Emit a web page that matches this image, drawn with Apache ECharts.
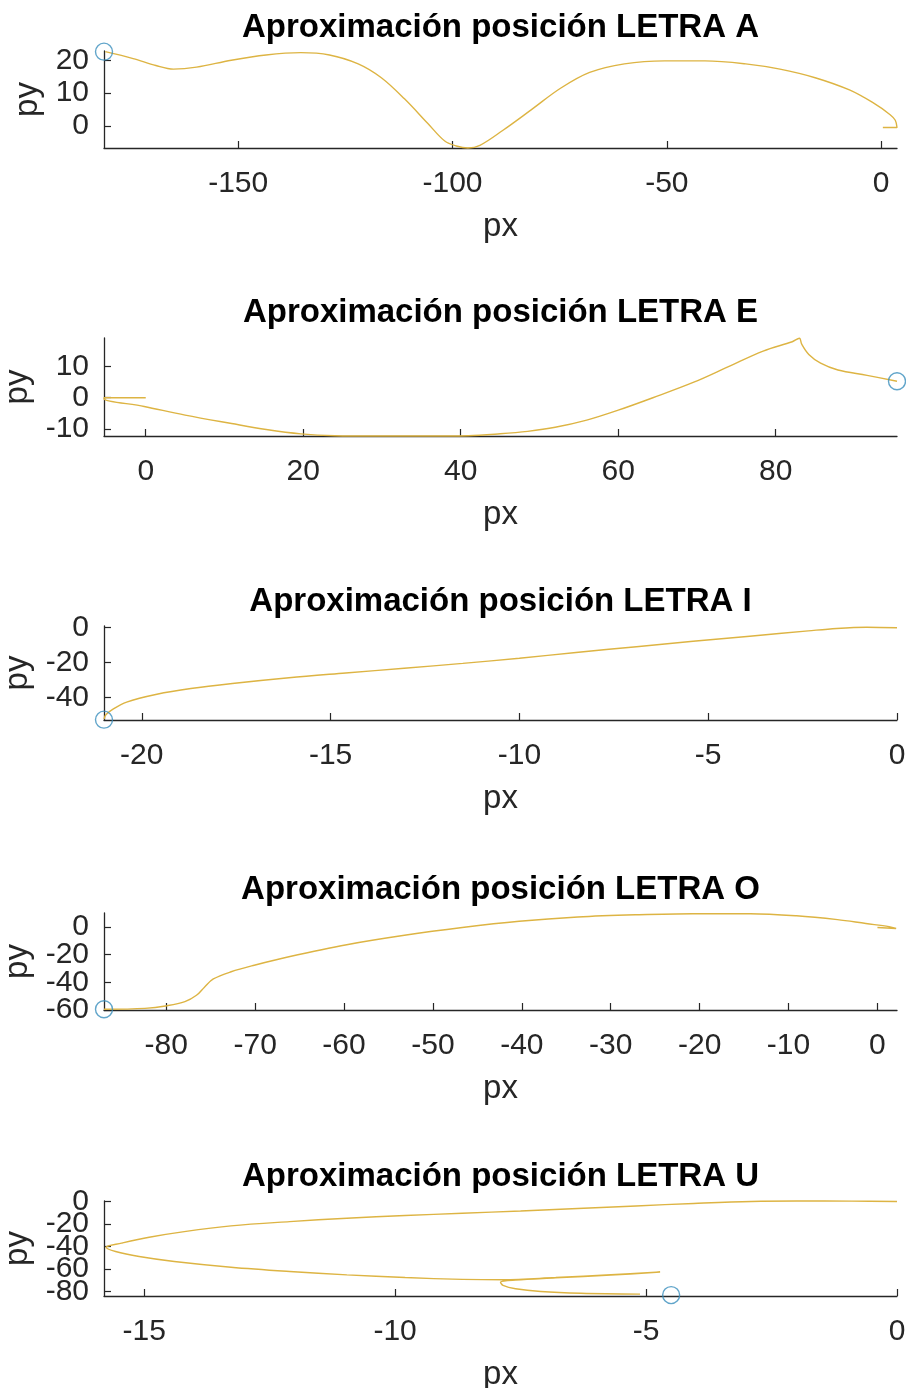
<!DOCTYPE html>
<html>
<head>
<meta charset="utf-8">
<script src="https://cdn.jsdelivr.net/npm/echarts@6/dist/echarts.min.js"></script>
<style>
  html, body { margin: 0; padding: 0; background: #ffffff; }
  #chart { width: 906px; height: 1388px; }
</style>
</head>
<body>
<div id="chart"></div>
<script>
// Trajectory of each letter: px / py samples, plus the marked end point.
const pxA = [0.4, 3.7, 3.7, 3.3, 2.1, -2.0, -7.4, -15.4, -23.6, -31.6, -41.1, -50.5, -59.9, -68.0, -74.8, -81.5, -88.3, -93.6, -96.4, -99.1, -101.8, -105.8, -111.2, -116.6, -122.0, -128.7, -135.4, -143.5, -151.6, -159.7, -165.1, -169.2, -174.5, -181.0];
const pyA = [-0.4, -0.4, -0.4, 1.8, 3.5, 7.2, 11.0, 14.7, 17.3, 18.9, 19.8, 19.8, 18.9, 16.3, 11.5, 5.1, -1.3, -5.8, -6.6, -6.0, -4.5, 0.9, 8.3, 14.7, 18.9, 21.6, 22.3, 21.6, 20.0, 17.9, 17.3, 18.4, 20.5, 22.6];
const endA = [-181.3, 22.6];

const pxE = [0, -5.3, -5.3, -0.2, 5.0, 10.9, 15.3, 19.7, 24.0, 29.0, 35.0, 41.0, 45.0, 48.5, 52.0, 56.0, 60.0, 64.4, 69.6, 74.0, 78.4, 82.1, 83.0, 83.0, 83.3, 84.2, 85.7, 87.9, 91.6, 95.4];
const pyE = [0, 0, -0.3, -2.8, -5.6, -8.3, -10.2, -11.6, -12.2, -12.3, -12.3, -12.2, -11.6, -10.8, -9.5, -7.2, -4.0, 0.0, 5.0, 10.0, 15.0, 18.0, 19.1, 19.1, 17.2, 13.9, 11.1, 8.9, 7.2, 5.3];
const endE = [95.4, 5.3];

const pxI = [0.0, -0.8, -1.6, -2.35, -3.9, -5.4, -6.9, -8.5, -10.0, -11.5, -13.05, -14.6, -16.1, -17.6, -18.7, -19.6, -20.4, -20.8, -20.95, -21.0];
const pyI = [0.0, 0.3, -0.4, -1.8, -4.9, -7.8, -10.9, -14.2, -17.5, -20.5, -23.3, -26.0, -28.7, -32.0, -34.9, -38.2, -42.7, -47.3, -50.0, -52.5];
const endI = [-21.0, -52.8];

const pxO = [0.0, 2.1, 2.1, 1.3, -1.3, -4.5, -9.1, -14.3, -20.8, -27.2, -33.7, -40.3, -46.7, -53.2, -59.7, -66.2, -70.1, -72.7, -74.7, -75.7, -76.6, -77.9, -79.9, -82.4, -87.0];
const pyO = [-0.5, -1.2, -1.2, 0.2, 2.4, 5.2, 8.0, 9.5, 9.5, 8.7, 7.1, 4.0, -0.5, -6.1, -12.9, -21.6, -27.7, -32.4, -37.6, -43.5, -49.4, -54.0, -56.9, -58.8, -59.5];
const endO = [-87.0, -59.5];

const pxU = [0.0, -0.9, -2.0, -2.9, -4.05, -5.2, -6.36, -7.5, -8.66, -9.8, -10.96, -12.1, -13.27, -14.2, -14.9, -15.45, -15.76, -15.57, -15.1, -14.4, -13.27, -12.1, -10.96, -9.8, -8.66, -7.85, -6.8, -5.7, -4.72, -4.72, -5.7, -6.8, -7.6, -7.9, -7.85, -7.6, -7.1, -6.3, -5.12];
const pyU = [0.0, 0.35, 0.5, 0.1, -1.7, -3.9, -6.2, -8.4, -10.4, -12.4, -14.8, -17.8, -21.6, -26.7, -31.7, -37.0, -40.6, -44.4, -48.9, -53.3, -58.4, -62.2, -65.2, -67.6, -69.2, -69.6, -67.6, -65.1, -62.7, -62.7, -65.4, -67.9, -69.8, -71.8, -74.5, -77.5, -80.0, -81.6, -82.3];
const endU = [-4.5, -83.2];

// Tick values for every panel
const xTicksA = [-150, -100, -50, 0];
const yTicksA = [0, 10, 20];
const xTicksE = [0, 20, 40, 60, 80];
const yTicksE = [-10, 0, 10];
const xTicksI = [-20, -15, -10, -5, 0];
const yTicksI = [-40, -20, 0];
const xTicksO = [-80, -70, -60, -50, -40, -30, -20, -10, 0];
const yTicksO = [-60, -40, -20, 0];
const xTicksU = [-15, -10, -5, 0];
const yTicksU = [-80, -60, -40, -20, 0];

const titles = [
  'Aproximación posición LETRA A',
  'Aproximación posición LETRA E',
  'Aproximación posición LETRA I',
  'Aproximación posición LETRA O',
  'Aproximación posición LETRA U'
];

const FONT = '"Liberation Sans", Arial, Helvetica, sans-serif';
const AXIS_COLOR = '#262626';
const LINE_COLOR = '#DDB443';
const MARK_COLOR = '#3a8fbd';

const panels = [
  { x: pxA, y: pyA, end: endA, xt: xTicksA, yt: yTicksA, xr: [-181.3, 3.7], yr: [-6.6, 22.8], top: 51, h: 97, titleY: 28 },
  { x: pxE, y: pyE, end: endE, xt: xTicksE, yt: yTicksE, xr: [-5.3, 95.4], yr: [-12.3, 19.2], top: 338, h: 98, titleY: 313 },
  { x: pxI, y: pyI, end: endI, xt: xTicksI, yt: yTicksI, xr: [-21.0, 0.0], yr: [-53, 1], top: 626, h: 94, titleY: 602 },
  { x: pxO, y: pyO, end: endO, xt: xTicksO, yt: yTicksO, xr: [-87.0, 2.2], yr: [-60, 10], top: 913, h: 97, titleY: 890 },
  { x: pxU, y: pyU, end: endU, xt: xTicksU, yt: yTicksU, xr: [-15.8, 0.0], yr: [-84, 0.5], top: 1201, h: 95, titleY: 1177 }
];

const GRID_LEFT = 104;
const GRID_WIDTH = 793;

const labelStyle = { fontSize: 30, color: AXIS_COLOR, fontFamily: FONT };
const grid = [], xAxis = [], yAxis = [], series = [], graphic = [];

panels.forEach((p, i) => {
  grid.push({
    left: GRID_LEFT, width: GRID_WIDTH, top: p.top, height: p.h,
    containLabel: false, outerBoundsMode: 'none'
  });

  xAxis.push({
    gridIndex: i, type: 'value', min: p.xr[0], max: p.xr[1],
    axisLine: { show: true, onZero: false, lineStyle: { color: AXIS_COLOR, width: 1.3 } },
    axisTick: { show: true, inside: true, length: 7, customValues: p.xt, lineStyle: { color: AXIS_COLOR, width: 1.2 } },
    axisLabel: Object.assign({ customValues: p.xt, margin: 21, showMinLabel: true, showMaxLabel: true }, labelStyle),
    splitLine: { show: false },
    name: 'px', nameLocation: 'middle', nameGap: 62,
    nameTextStyle: { fontSize: 33, color: AXIS_COLOR, fontFamily: FONT }
  });

  // The y tick labels sit very close together, so they are split over two
  // left axes (alternate values) to keep every label visible.
  const evenLabels = p.yt.filter((_, k) => k % 2 === 0);
  const oddLabels = p.yt.filter((_, k) => k % 2 === 1);

  yAxis.push({
    gridIndex: i, type: 'value', position: 'left', min: p.yr[0], max: p.yr[1],
    axisLine: { show: true, onZero: false, lineStyle: { color: AXIS_COLOR, width: 1.3 } },
    axisTick: { show: true, inside: true, length: 7, customValues: p.yt, lineStyle: { color: AXIS_COLOR, width: 1.2 } },
    axisLabel: Object.assign({ customValues: evenLabels, margin: 15, showMinLabel: true, showMaxLabel: true }, labelStyle),
    splitLine: { show: false },
    name: 'py', nameLocation: 'middle', nameGap: 56,
    nameTextStyle: { fontSize: 33, color: AXIS_COLOR, fontFamily: FONT }
  });

  yAxis.push({
    gridIndex: i, type: 'value', position: 'left', offset: 0, min: p.yr[0], max: p.yr[1],
    axisLine: { show: false, onZero: false },
    axisTick: { show: false },
    axisLabel: Object.assign({ show: oddLabels.length > 0, customValues: oddLabels, margin: 15, showMinLabel: true, showMaxLabel: true }, labelStyle),
    splitLine: { show: false }
  });

  series.push({
    type: 'line', xAxisIndex: i, yAxisIndex: 2 * i,
    data: p.x.map((v, k) => [v, p.y[k]]),
    showSymbol: false, smooth: 0.35, clip: false,
    lineStyle: { color: LINE_COLOR, width: 1.4 },
    silent: true, z: 3
  });

  series.push({
    type: 'scatter', xAxisIndex: i, yAxisIndex: 2 * i,
    data: [p.end], symbol: 'circle', symbolSize: 17, clip: false,
    itemStyle: { color: 'rgba(0,0,0,0)', borderColor: MARK_COLOR, borderWidth: 1.4 },
    silent: true, z: 4
  });

  graphic.push({
    type: 'text', x: GRID_LEFT + GRID_WIDTH / 2, y: p.titleY,
    style: {
      text: titles[i], textAlign: 'center', textVerticalAlign: 'middle',
      font: 'bold 33px ' + FONT, fill: '#000000'
    }
  });
});

const chart = echarts.init(document.getElementById('chart'), null, { renderer: 'canvas' });
chart.setOption({
  animation: false,
  backgroundColor: '#ffffff',
  grid, xAxis, yAxis, series, graphic
});
</script>
</body>
</html>
